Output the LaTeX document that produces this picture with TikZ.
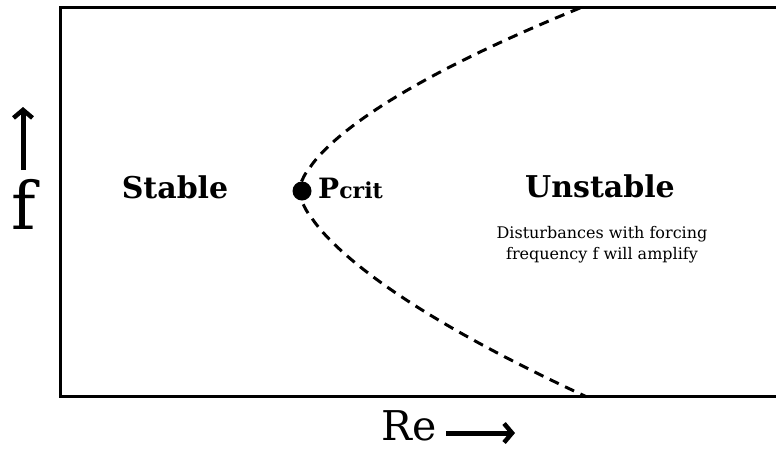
\documentclass[tikz,border=0pt]{standalone}
\usepackage{fontspec}
\setmainfont{DejaVu Serif}
\usetikzlibrary{arrows.meta}
\begin{document}
\begin{tikzpicture}[x=1pt,y=-1pt,
  frame/.style={line width=3pt},
  boundary/.style={line width=3pt, dash pattern=on 10pt off 7pt},
  axisarrow/.style={line width=5pt, -{Straight Barb[length=8pt,width=19pt,line width=4.5pt]}},
  region/.style={font=\fontsize{30}{34}\selectfont\bfseries, anchor=base, inner sep=0pt},
  note/.style={font=\fontsize{16}{22}\selectfont, anchor=base, inner sep=0pt},
  axlabel/.style={inner sep=0pt, anchor=base, text depth=0pt}]
\useasboundingbox (0,0) rectangle (776,448);
\draw[frame] (776,7) -- (60,7) -- (60,396) -- (776,396);
% stability boundary
\draw[boundary] plot[domain=1:0.002, samples=80, smooth] ({299+281*pow(\x,1.6)}, {191-183*\x})
  -- plot[domain=0.002:1, samples=80, smooth] ({299+288*pow(\x,1.55)}, {191+206*\x});
\fill (302,191) circle (9.5pt) coordinate (pc);
\node[axlabel, anchor=base west, font=\fontsize{28}{30}\selectfont\bfseries] (p) at (318,198) {P\fontsize{22}{24}\selectfont crit};
\node[region] (stable) at (175,198) {Stable};
\node[region] (unstable) at (600,197) {Unstable};
\node[note] (dist1) at (602,238) {Disturbances with forcing};
\node[note] (dist2) at (602,259) {frequency f will amplify};
% axis labels
\node[axlabel, font=\fontsize{66}{70}\selectfont] (flab) at (24,229) {f};
\coordinate (fa0) at (23,170);
\coordinate (fa1) at (23,107);
\draw[axisarrow] (fa0) -- (fa1);
\node[axlabel, font=\fontsize{41}{46}\selectfont, anchor=base west] (relab) at (381,440) {Re};
\coordinate (ra0) at (446,433);
\coordinate (ra1) at (515,433);
\draw[axisarrow] (ra0) -- (ra1);
\end{tikzpicture}
\end{document}
